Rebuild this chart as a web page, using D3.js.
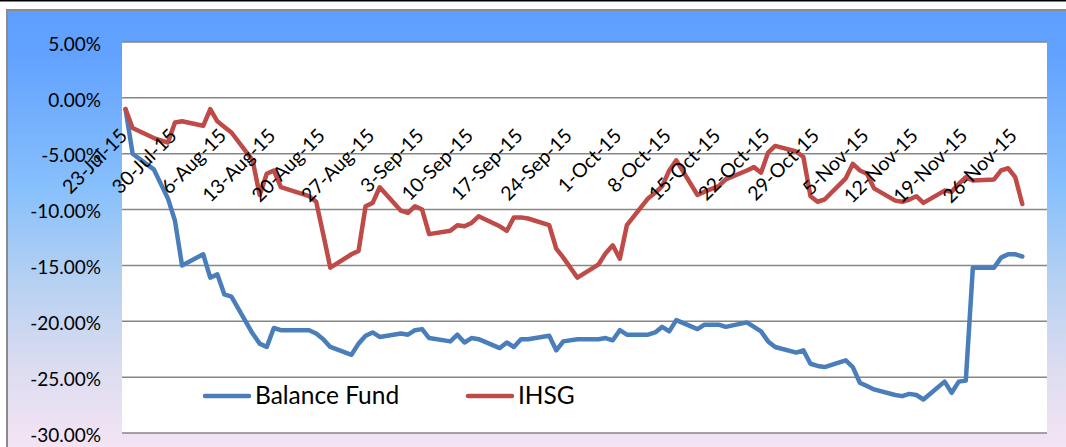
<!DOCTYPE html>
<html>
<head>
<meta charset="utf-8">
<script src="https://cdn.jsdelivr.net/npm/d3@7"></script>
<style>
  html, body { margin: 0; padding: 0; background: #fff; }
  svg { display: block; font-family: Lato, "Noto Sans", sans-serif; }
</style>
</head>
<body>
<div id="chart"></div>
<script>
// trading days shown in the chart
const dates = [
  "23-Jul-15","24-Jul-15","27-Jul-15","28-Jul-15","29-Jul-15","30-Jul-15","31-Jul-15",
  "3-Aug-15","4-Aug-15","5-Aug-15","6-Aug-15","7-Aug-15","10-Aug-15","11-Aug-15","12-Aug-15","13-Aug-15","14-Aug-15",
  "18-Aug-15","19-Aug-15","20-Aug-15","21-Aug-15","24-Aug-15","25-Aug-15","26-Aug-15","27-Aug-15","28-Aug-15","31-Aug-15",
  "1-Sep-15","2-Sep-15","3-Sep-15","4-Sep-15","7-Sep-15","8-Sep-15","9-Sep-15","10-Sep-15","11-Sep-15",
  "14-Sep-15","15-Sep-15","16-Sep-15","17-Sep-15","18-Sep-15","21-Sep-15","22-Sep-15","23-Sep-15","25-Sep-15",
  "28-Sep-15","29-Sep-15","30-Sep-15","1-Oct-15","2-Oct-15","5-Oct-15","6-Oct-15","7-Oct-15","8-Oct-15","9-Oct-15",
  "12-Oct-15","13-Oct-15","15-Oct-15","16-Oct-15","19-Oct-15","20-Oct-15","21-Oct-15","22-Oct-15","23-Oct-15",
  "26-Oct-15","27-Oct-15","28-Oct-15","29-Oct-15","30-Oct-15","2-Nov-15","3-Nov-15","4-Nov-15","5-Nov-15","6-Nov-15",
  "9-Nov-15","10-Nov-15","11-Nov-15","12-Nov-15","13-Nov-15","16-Nov-15","17-Nov-15","18-Nov-15","19-Nov-15","20-Nov-15",
  "23-Nov-15","24-Nov-15","25-Nov-15","26-Nov-15","27-Nov-15"
];

// cumulative return, percent
const balanceFund = [
  -1.0, -5.0, -6.4, -7.7, -9.0, -11.0, -15.0,
  -14.0, -16.1, -15.8, -17.6, -17.8, -21.1, -22.0, -22.3, -20.6, -20.8,
  -20.8, -21.1, -21.6, -22.3, -23.0, -22.0, -21.3, -21.0, -21.4, -21.1,
  -21.2, -20.8, -20.7, -21.5, -21.8, -21.2, -21.9, -21.5, -21.6,
  -22.4, -21.9, -22.3, -21.6, -21.6, -21.3, -22.6, -21.8, -21.6,
  -21.6, -21.5, -21.7, -20.8, -21.2, -21.2, -21.0, -20.5, -20.9, -19.9,
  -20.7, -20.3, -20.3, -20.5, -20.1, -20.5, -20.9, -21.8, -22.3,
  -22.8, -22.6, -23.8, -24.0, -24.1, -23.5, -24.1, -25.5, -25.8, -26.1,
  -26.6, -26.7, -26.5, -26.6, -27.0, -25.4, -26.4, -25.4, -25.3, -15.2,
  -15.2, -14.3, -14.0, -14.0, -14.2
];

const ihsg = [
  -1.0, -2.7, -3.6, -3.8, -4.0, -2.2, -2.1,
  -2.5, -1.0, -2.1, -2.6, -3.1, -5.6, -8.7, -6.8, -6.5, -8.0,
  -8.8, -9.3, -12.2, -15.2, -14.0, -13.7, -9.7, -9.4, -8.0, -10.1,
  -10.3, -9.7, -10.0, -12.2, -11.9, -11.4, -11.5, -11.2, -10.6,
  -11.5, -11.9, -10.7, -10.7, -10.8, -11.4, -13.5, -14.3, -16.1,
  -14.9, -13.9, -13.2, -14.4, -11.4, -9.0, -8.5, -7.9, -6.5, -5.6,
  -8.7, -8.4, -7.9, -7.3, -6.5, -6.2, -6.7, -4.9, -4.3,
  -4.8, -5.3, -8.8, -9.3, -9.1, -7.2, -5.9, -6.5, -6.8, -8.1,
  -9.2, -9.3, -9.1, -8.8, -9.4, -8.3, -8.4, -7.7, -7.1, -7.4,
  -7.3, -6.5, -6.3, -7.1, -9.5
];

const tickLabels = [
  "23-Jul-15","30-Jul-15","6-Aug-15","13-Aug-15","20-Aug-15","27-Aug-15","3-Sep-15",
  "10-Sep-15","17-Sep-15","24-Sep-15","1-Oct-15","8-Oct-15","15-Oct-15","22-Oct-15",
  "29-Oct-15","5-Nov-15","12-Nov-15","19-Nov-15","26-Nov-15"
];
const yTicks = [5, 0, -5, -10, -15, -20, -25, -30];

const seriesNames = ["Balance Fund", "IHSG"];
const seriesColors = ["#4a7ebb", "#be4b48"];

const W = 1066, H = 447;
const plot = { left: 122, right: 1047, top: 42, bottom: 433 };

const parse = d3.utcParse("%d-%b-%y");
const fmt = d3.utcFormat("%-d-%b-%y");
const day = 864e5;

const x = d3.scaleUtc()
  .domain([new Date(+parse("23-Jul-15") - day / 2), new Date(+parse("30-Nov-15") + day / 2)])
  .range([plot.left, plot.right]);
const y = d3.scaleLinear().domain([-30, 5]).range([plot.bottom, plot.top]);

const svg = d3.select("#chart").append("svg").attr("width", W).attr("height", H);

const grad = svg.append("defs").append("linearGradient")
  .attr("id", "bg").attr("x1", 0).attr("y1", 0).attr("x2", 0).attr("y2", 1);
[[0, "#5e9eff"], [0.1, "#62a2ff"], [0.4, "#88c0fc"], [0.6, "#b4d0f2"], [0.8, "#dcdcf0"], [1, "#f7e5f5"]]
  .forEach(([o, c]) => grad.append("stop").attr("offset", o).attr("stop-color", c));

// top rule + chart area
svg.append("line").attr("x1", 0).attr("x2", W).attr("y1", 0.5).attr("y2", 0.5)
  .attr("stroke", "#000").attr("stroke-width", 2);
svg.append("rect").attr("x", 7).attr("y", 10).attr("width", W + 10).attr("height", H)
  .attr("fill", "url(#bg)").attr("stroke", "#8c8c8c").attr("stroke-width", 2);
svg.append("rect").attr("x", plot.left).attr("y", plot.top)
  .attr("width", plot.right - plot.left).attr("height", plot.bottom - plot.top).attr("fill", "#fff");

// gridlines
svg.append("g").selectAll("line").data(yTicks).join("line")
  .attr("x1", plot.left).attr("x2", plot.right)
  .attr("y1", d => y(d)).attr("y2", d => y(d))
  .attr("stroke", "#868686").attr("stroke-width", 1.5);

// y labels
svg.append("g").selectAll("text").data(yTicks).join("text")
  .attr("x", 101).attr("y", d => y(d) + 2)
  .attr("dy", "0.35em").attr("text-anchor", "end")
  .attr("font-size", 19).attr("fill", "#000")
  .text(d => d.toFixed(2) + "%");

// series
const series = [balanceFund, ihsg];
const line = d3.line().x(d => x(d.date)).y(d => y(d.v));
series.forEach((vals, i) => {
  const pts = dates.map((s, j) => ({ date: parse(s), v: vals[j] }));
  svg.append("path").datum(pts)
    .attr("d", line)
    .attr("fill", "none")
    .attr("stroke", seriesColors[i])
    .attr("stroke-width", 4.5)
    .attr("stroke-linejoin", "round")
    .attr("stroke-linecap", "round");
});

// legend
const legendX = [205, 468];
seriesNames.forEach((name, i) => {
  const g = svg.append("g").attr("transform", `translate(${legendX[i]}, 396)`);
  g.append("line").attr("x1", 0).attr("x2", 44).attr("y1", 0).attr("y2", 0)
    .attr("stroke", seriesColors[i]).attr("stroke-width", 4.5).attr("stroke-linecap", "round");
  g.append("text").attr("x", 50).attr("y", 8)
    .attr("font-size", 24.5).attr("fill", "#000").text(name);
});

// x labels (axis crosses at 0%)
svg.append("g").selectAll("text").data(tickLabels).join("text")
  .attr("transform", d => `translate(${x(parse(d)) + 3}, 137) rotate(-45)`)
  .attr("text-anchor", "end")
  .attr("font-size", 19.5).attr("fill", "#000")
  .text(d => fmt(parse(d)));
</script>
</body>
</html>
